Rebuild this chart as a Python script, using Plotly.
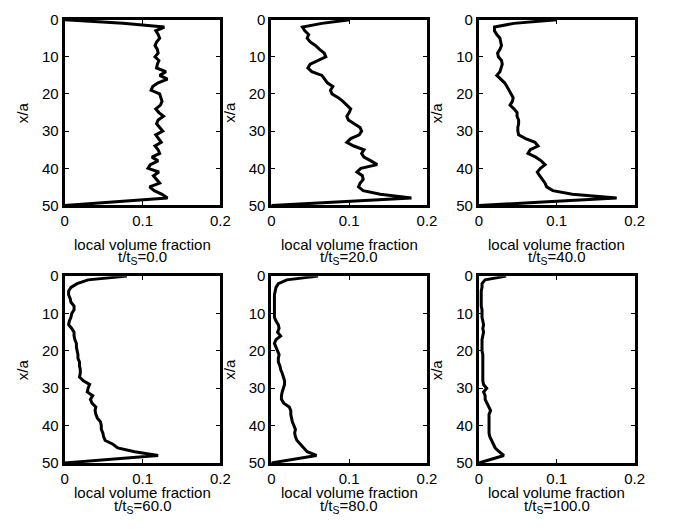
import plotly.graph_objects as go

# Depth across the channel (x/a), shared by all profiles
depth = list(range(0, 51))

# Local volume fraction profiles at successive times
phi_t0 = [0.0, 0.075, 0.128, 0.117, 0.120, 0.122, 0.118, 0.116, 0.119, 0.120,
          0.116, 0.121, 0.119, 0.118, 0.130, 0.122, 0.132, 0.120, 0.113, 0.111,
          0.122, 0.124, 0.125, 0.123, 0.117, 0.121, 0.127, 0.120, 0.118, 0.122,
          0.126, 0.117, 0.120, 0.124, 0.116, 0.120, 0.122, 0.112, 0.120, 0.110,
          0.107, 0.121, 0.114, 0.118, 0.122, 0.109, 0.115, 0.125, 0.132, 0.066,
          0.0]
phi_t20 = [0.101, 0.065, 0.040, 0.043, 0.048, 0.046, 0.050, 0.057, 0.062, 0.068,
           0.070, 0.059, 0.050, 0.047, 0.052, 0.065, 0.069, 0.072, 0.079, 0.076,
           0.078, 0.086, 0.092, 0.097, 0.102, 0.100, 0.097, 0.099, 0.106, 0.114,
           0.116, 0.113, 0.102, 0.097, 0.106, 0.119, 0.116, 0.119, 0.128, 0.136,
           0.115, 0.110, 0.117, 0.118, 0.114, 0.112, 0.118, 0.140, 0.180, 0.090,
           0.0]
phi_t40 = [0.100, 0.045, 0.020, 0.020, 0.023, 0.027, 0.028, 0.029, 0.027, 0.024,
           0.025, 0.029, 0.030, 0.028, 0.027, 0.023, 0.028, 0.033, 0.036, 0.039,
           0.042, 0.044, 0.043, 0.040, 0.045, 0.049, 0.049, 0.051, 0.051, 0.050,
           0.050, 0.051, 0.060, 0.072, 0.076, 0.066, 0.063, 0.073, 0.080, 0.085,
           0.079, 0.075, 0.078, 0.082, 0.085, 0.087, 0.095, 0.120, 0.177, 0.088,
           0.0]
phi_t60 = [0.080, 0.030, 0.016, 0.008, 0.005, 0.005, 0.007, 0.008, 0.012, 0.012,
           0.009, 0.008, 0.006, 0.005, 0.009, 0.012, 0.012, 0.013, 0.015, 0.015,
           0.016, 0.017, 0.017, 0.019, 0.019, 0.020, 0.020, 0.019, 0.024, 0.032,
           0.030, 0.029, 0.036, 0.033, 0.035, 0.040, 0.039, 0.040, 0.042, 0.046,
           0.047, 0.047, 0.049, 0.050, 0.052, 0.062, 0.068, 0.090, 0.120, 0.060,
           0.0]
phi_t80 = [0.060, 0.020, 0.009, 0.006, 0.005, 0.004, 0.004, 0.004, 0.004, 0.004,
           0.004, 0.004, 0.006, 0.009, 0.010, 0.008, 0.012, 0.006, 0.004, 0.006,
           0.008, 0.010, 0.009, 0.009, 0.011, 0.012, 0.014, 0.016, 0.017, 0.017,
           0.015, 0.014, 0.013, 0.013, 0.016, 0.023, 0.025, 0.025, 0.026, 0.027,
           0.029, 0.031, 0.030, 0.031, 0.033, 0.037, 0.041, 0.046, 0.058, 0.029,
           0.0]
phi_t100 = [0.035, 0.008, 0.004, 0.004, 0.003, 0.003, 0.003, 0.003, 0.003, 0.004,
            0.004, 0.004, 0.005, 0.006, 0.005, 0.006, 0.005, 0.004, 0.004, 0.004,
            0.004, 0.005, 0.005, 0.005, 0.005, 0.005, 0.005, 0.005, 0.005, 0.006,
            0.010, 0.006, 0.008, 0.008, 0.010, 0.013, 0.015, 0.013, 0.013, 0.013,
            0.013, 0.013, 0.013, 0.014, 0.016, 0.018, 0.021, 0.026, 0.032, 0.016,
            0.0]

profiles = [phi_t0, phi_t20, phi_t40, phi_t60, phi_t80, phi_t100]
time_labels = ["0.0", "20.0", "40.0", "60.0", "80.0", "100.0"]

x_ticks = [0, 0.1, 0.2]
x_ticktext = ["0", "0.1", "0.2"]
y_ticks = [0, 10, 20, 30, 40, 50]

W, H = 673, 529
FONT = "Liberation Sans, Arial, Helvetica, sans-serif"

# Panel placement in pixels (left, right) and (top, bottom)
cols_px = [(62, 221), (273, 432), (485, 644)]
rows_px = [(11, 203), (276, 469)]
# Vertical centres of the two caption lines under each row
caption_px = [(243, 257), (500, 514)]

def px_x(p):
    return p / W

def px_y(p):
    return 1 - p / H

fig = go.Figure()
annotations = []

for i, (phi, tl) in enumerate(zip(profiles, time_labels)):
    r, c = divmod(i, 3)
    n = i + 1
    xa = "x" if n == 1 else f"x{n}"
    ya = "y" if n == 1 else f"y{n}"
    fig.add_trace(go.Scatter(
        x=phi, y=depth, mode="lines",
        line=dict(color="black", width=3),
        xaxis=xa, yaxis=ya, showlegend=False, hoverinfo="skip",
    ))
    (l, rr), (t, b) = cols_px[c], rows_px[r]
    common = dict(
        showline=True, linecolor="black", linewidth=3, mirror="allticks",
        ticks="inside", ticklen=4, tickwidth=1, tickcolor="black",
        showgrid=False, zeroline=False,
        tickfont=dict(family=FONT, size=15, color="black"),
    )
    fig.layout[f"xaxis{n}"] = dict(
        domain=[px_x(l), px_x(rr)], anchor=ya, range=[0, 0.2],
        tickvals=x_ticks, ticktext=x_ticktext, **common,
    )
    fig.layout[f"yaxis{n}"] = dict(
        domain=[px_y(b), px_y(t)], anchor=xa, range=[50, 0],
        tickvals=y_ticks, **common,
    )
    cx = px_x((l + rr) / 2)
    y1, y2 = caption_px[r]
    annotations.append(dict(
        text="local volume fraction", x=cx, y=px_y(y1), xref="paper", yref="paper",
        showarrow=False, xanchor="center", yanchor="middle",
        font=dict(family=FONT, size=15, color="black"),
    ))
    annotations.append(dict(
        text=f"t/t<sub>S</sub>={tl}", x=cx, y=px_y(y2), xref="paper", yref="paper",
        showarrow=False, xanchor="center", yanchor="middle",
        font=dict(family=FONT, size=15, color="black"),
    ))
    annotations.append(dict(
        text="x/a", x=px_x(l - 43), y=px_y((t + b) / 2), xref="paper", yref="paper",
        showarrow=False, xanchor="center", yanchor="middle", textangle=-90,
        font=dict(family=FONT, size=15, color="black"),
    ))

fig.update_layout(
    width=W, height=H,
    margin=dict(l=0, r=0, t=0, b=0),
    paper_bgcolor="white", plot_bgcolor="white",
    annotations=annotations,
    showlegend=False,
)

fig.write_html("out.html")
